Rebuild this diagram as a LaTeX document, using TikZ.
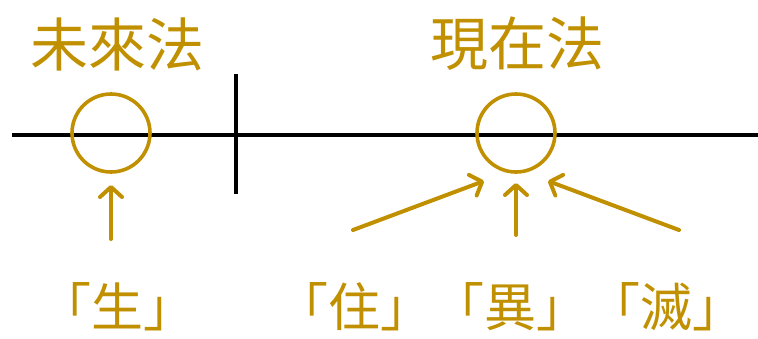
\documentclass[tikz,border=0pt]{standalone}
\usepackage{fontspec}
\newfontfamily\cjk{Noto Sans CJK TC}
\usetikzlibrary{arrows.meta}
\definecolor{gold}{RGB}{192,144,0}
\tikzset{
  axis/.style={line width=4pt,black},
  ring/.style={circle,draw=gold,line width=3.6pt,minimum size=78pt,inner sep=0pt},
  title/.style={text=gold,font=\cjk\fontsize{58}{58}\selectfont,inner sep=0pt},
  label/.style={text=gold,font=\cjk\fontsize{52}{52}\selectfont,inner sep=0pt},
  arr/.style={draw=gold,line width=4pt,line cap=round,line join=round,-{Straight Barb[length=10pt,width=22pt,line cap=round,line join=round]}}
}
\begin{document}
\begin{tikzpicture}[x=1pt,y=-1pt]
\useasboundingbox (0,0) rectangle (758,338);
% axis
\coordinate (hl) at (12,135);
\coordinate (hr) at (758,135);
\coordinate (vt) at (236,74);
\coordinate (vb) at (236,194);
\draw[axis] (hl) -- (hr);
\draw[axis] (vt) -- (vb);
% circles
\node[ring] (c1) at (111,133) {};
\node[ring] (c2) at (516,133) {};
% titles
\node[title] (t1) at (117.5,44) {未來法};
\node[title] (t2) at (517.5,44) {現在法};
% labels
\node[label] (l1) at (117,307) {「生」};
\node[label] (l2) at (510,307) {「住」「異」「滅」};
% arrows
\coordinate (a1s) at (111,239);
\coordinate (a1e) at (111,185);
\coordinate (a2s) at (353,230);
\coordinate (a2e) at (484,181);
\coordinate (a3s) at (516,235);
\coordinate (a3e) at (516,183);
\coordinate (a4s) at (679,230);
\coordinate (a4e) at (548,181);
\draw[arr] (a1s) -- (a1e);
\draw[arr] (a2s) -- (a2e);
\draw[arr] (a3s) -- (a3e);
\draw[arr] (a4s) -- (a4e);
\end{tikzpicture}
\end{document}
